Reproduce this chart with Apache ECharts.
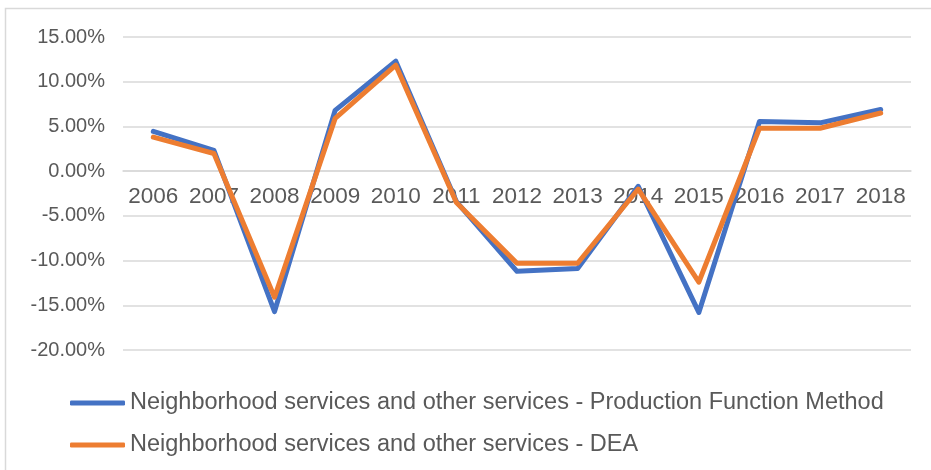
<!DOCTYPE html>
<html>
<head>
<meta charset="utf-8">
<script src="https://cdn.jsdelivr.net/npm/echarts@6/dist/echarts.min.js"></script>
<style>
  html, body { margin: 0; padding: 0; background: #fff; }
  #chart { width: 931px; height: 470px; }
</style>
</head>
<body>
<div id="chart"></div>
<script>
// Years on the category axis
const years = ['2006', '2007', '2008', '2009', '2010', '2011', '2012', '2013', '2014', '2015', '2016', '2017', '2018'];

// Growth rates in percent
const productionFunction = [4.44, 2.33, -15.7, 6.8, 12.3, -3.4, -11.2, -10.9, -1.7, -15.8, 5.56, 5.4, 6.9];
const dea = [3.8, 1.97, -14.1, 5.9, 11.85, -3.5, -10.3, -10.3, -2.0, -12.4, 4.8, 4.8, 6.5];

// Series names shown in the legend
const seriesNames = [
  'Neighborhood services and other services - Production Function Method',
  'Neighborhood services and other services - DEA'
];

// Value axis range (percent)
const yMin = -20, yMax = 15, yStep = 5;

const chart = echarts.init(document.getElementById('chart'), null, { renderer: 'canvas' });

const labelColor = '#595959';
const gridColor = '#d9d9d9';
const font = '"Liberation Sans", Arial, sans-serif';

// Plot area geometry
const gridTop = 37, gridBottom = 120, chartHeight = 470;
const plotHeight = chartHeight - gridTop - gridBottom;
// Move the category axis up from the bottom edge to the zero line
const zeroShift = plotHeight * (0 - yMin) / (yMax - yMin);

chart.setOption({
  animation: false,
  backgroundColor: '#ffffff',
  graphic: [{
    type: 'rect',
    shape: { x: 5.5, y: 8.5, width: 960, height: 480 },
    style: { fill: 'none', stroke: gridColor, lineWidth: 1.5 },
    silent: true,
    z: -1
  }],
  grid: { left: 123, right: 20, top: gridTop, bottom: gridBottom, containLabel: false },
  legend: {
    orient: 'vertical',
    left: 65,
    top: 386,
    itemWidth: 55,
    itemHeight: 5,
    itemGap: 18,
    icon: 'roundRect',
    textStyle: { color: labelColor, fontSize: 23.5, fontFamily: font, lineHeight: 23 },
    data: seriesNames
  },
  xAxis: {
    type: 'category',
    data: years,
    position: 'bottom',
    offset: -zeroShift,
    boundaryGap: true,
    axisLine: { onZero: false, lineStyle: { color: gridColor, width: 1.5 } },
    axisTick: { show: false },
    axisLabel: { color: labelColor, fontSize: 22.5, fontFamily: font, margin: 14, interval: 0 },
    splitLine: { show: false }
  },
  yAxis: {
    type: 'value',
    min: yMin,
    max: yMax,
    interval: yStep,
    axisLine: { show: false },
    axisTick: { show: false },
    axisLabel: {
      color: labelColor, fontSize: 20, fontFamily: font, margin: 18,
      formatter: v => v.toFixed(2) + '%'
    },
    splitLine: { lineStyle: { color: gridColor, width: 1.5 } }
  },
  series: [
    {
      name: seriesNames[0],
      type: 'line',
      data: productionFunction,
      showSymbol: false,
      symbol: 'none',
      lineStyle: { color: '#4472C4', width: 5, join: 'round', cap: 'round' },
      itemStyle: { color: '#4472C4' },
      z: 2
    },
    {
      name: seriesNames[1],
      type: 'line',
      data: dea,
      showSymbol: false,
      symbol: 'none',
      lineStyle: { color: '#ED7D31', width: 5, join: 'round', cap: 'round' },
      itemStyle: { color: '#ED7D31' },
      z: 3
    }
  ]
});
</script>
</body>
</html>
